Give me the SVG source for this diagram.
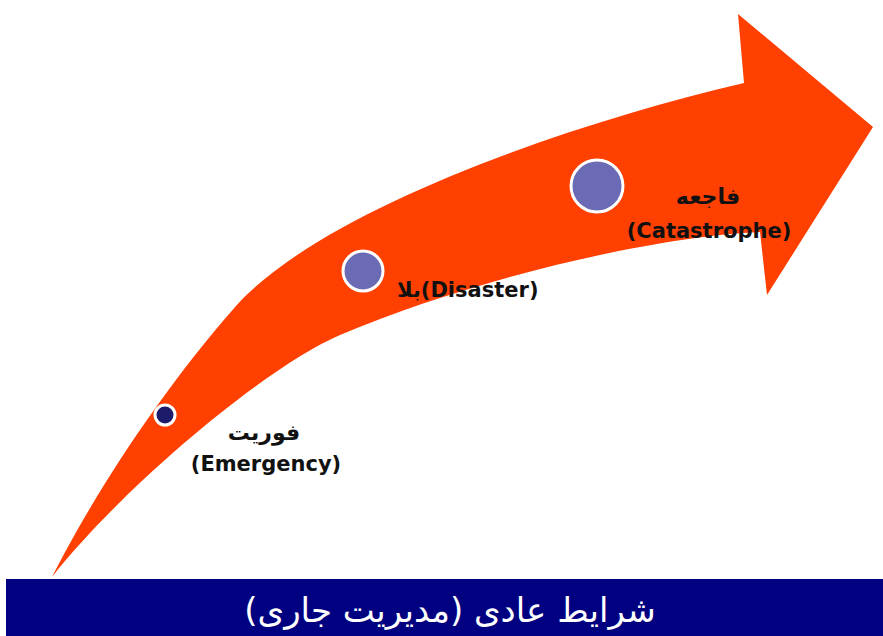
<svg xmlns="http://www.w3.org/2000/svg" width="883" height="636" viewBox="0 0 883 636">
<style>
.lbl{font-family:"DejaVu Sans","Liberation Sans",sans-serif;font-weight:bold;font-size:21px;fill:#111;}
.fa{font-size:22px;}
.bar{font-family:"DejaVu Sans","Liberation Sans",sans-serif;font-size:34px;fill:#ffffff;}
.dot{fill:#6B6BB5;stroke:#ffffff;stroke-width:3;}
</style>
<rect width="883" height="636" fill="#ffffff"/>
<g id="arrow">
<path d="M52,577 C92,498 160,392 236,306 C320,212 560,126 744,83 L738,14 L873,127 L767,295 L760,232 C660,236 480,276 340,335 C265,367 120,490 52,577 Z" fill="#FF4000"/>
</g>
<g id="emergency">
<circle cx="165" cy="415" r="10" fill="#1C1C6B" stroke="#ffffff" stroke-width="3"/>
<text class="lbl fa" x="264" y="440" text-anchor="middle">فوریت</text>
<text class="lbl" x="266" y="471" text-anchor="middle">(Emergency)</text>
</g>
<g id="disaster">
<circle class="dot" cx="363" cy="271" r="20"/>
<text class="lbl" x="397" y="297">بلا(Disaster)</text>
</g>
<g id="catastrophe">
<circle class="dot" cx="597" cy="186" r="26"/>
<text class="lbl fa" x="708" y="204" text-anchor="middle">فاجعه</text>
<text class="lbl" x="709" y="238" text-anchor="middle">(Catastrophe)</text>
</g>
<g id="normal">
<rect x="6" y="579" width="877" height="57" fill="#000080"/>
<text class="bar" x="450" y="622" text-anchor="middle" direction="rtl" unicode-bidi="embed">شرایط عادی (مدیریت جاری)</text>
</g>
<g id="connectors"/>
</svg>
